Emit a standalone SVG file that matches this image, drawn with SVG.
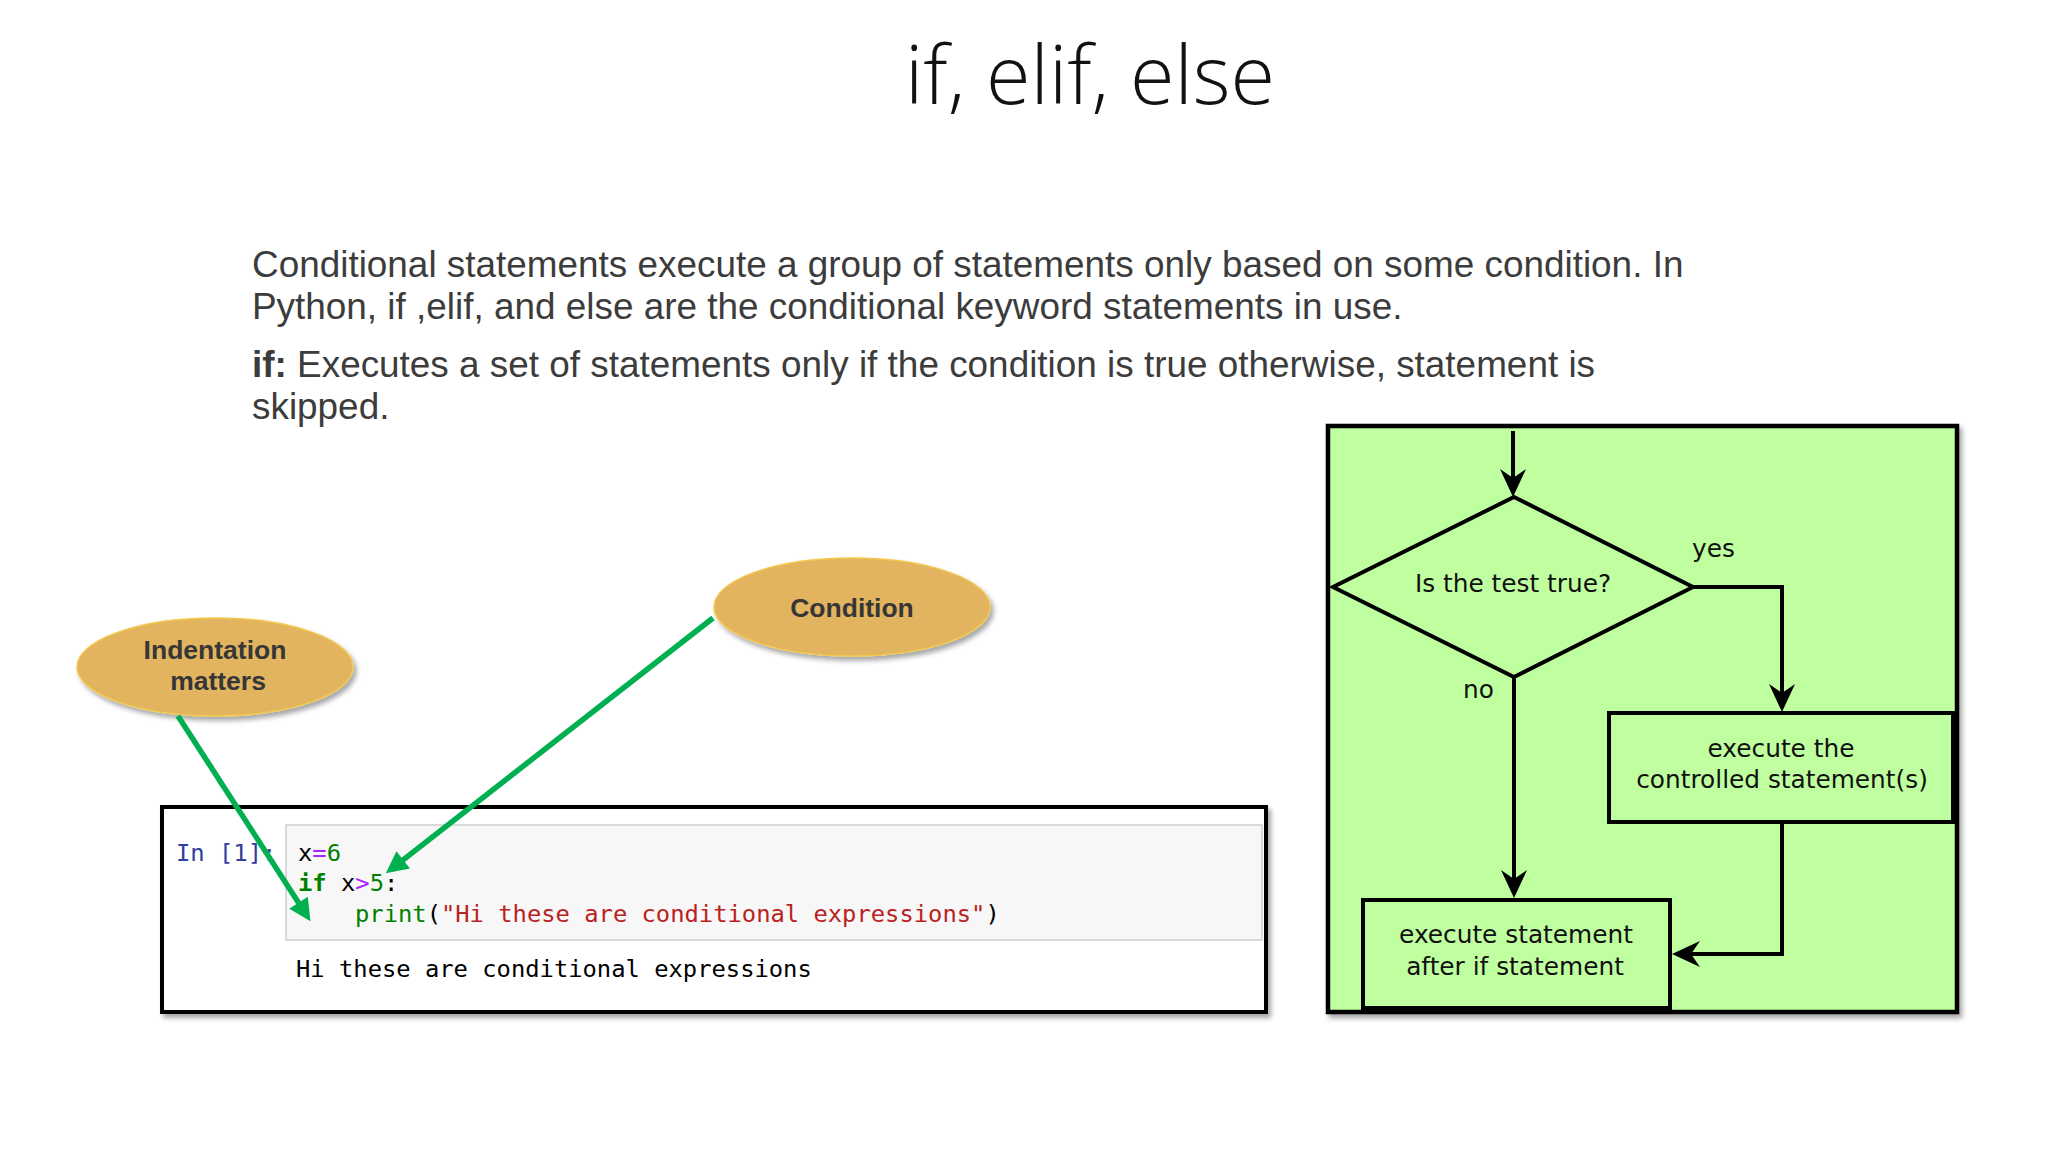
<svg xmlns="http://www.w3.org/2000/svg" width="2048" height="1152" viewBox="0 0 2048 1152">
<defs>
<style>
.title{font-family:"Open Sans","Noto Sans",sans-serif;font-weight:300;font-size:81px;fill:#111;}
.body{font-family:"Liberation Sans",Arial,sans-serif;font-size:36.9px;fill:#3c3c3c;}
.bubble{fill:#E3B45F;stroke:#F2C94C;stroke-width:1.5;}
.btxt{font-family:"Liberation Sans",Arial,sans-serif;font-weight:bold;font-size:26.5px;fill:#363636;text-anchor:middle;}
.code{font-family:"DejaVu Sans Mono","Liberation Mono",monospace;font-size:23.8px;fill:#000;}
.flow{font-family:"DejaVu Sans","Verdana",sans-serif;font-size:24.8px;fill:#111;}
.fbox{fill:#BFFF9F;stroke:#000;stroke-width:4;}
.fline{fill:none;stroke:#000;stroke-width:4;}
.ahead{fill:#000;}
.green{stroke:#00B050;stroke-width:5.5;fill:none;}
</style>
<filter id="shadow" x="-10%" y="-10%" width="130%" height="130%">
<feDropShadow dx="3" dy="4" stdDeviation="2.5" flood-color="#000" flood-opacity="0.35"/>
</filter>
<marker id="garrow" viewBox="0 0 10 10" refX="5" refY="5" markerWidth="24" markerHeight="22" markerUnits="userSpaceOnUse" orient="auto">
<path d="M0,0 L10,5 L0,10 z" fill="#00B050"/>
</marker>
</defs>
<rect width="2048" height="1152" fill="#fff"/>

<g id="title">
<text class="title" x="1090" y="104" text-anchor="middle">if, elif, else</text>
</g>

<g id="description">
<text class="body" x="252" y="277">Conditional statements execute a group of statements only based on some condition. In</text>
<text class="body" x="252" y="319">Python, if ,elif, and else are the conditional keyword statements in use.</text>
<text class="body" x="252" y="377"><tspan font-weight="bold">if:</tspan> Executes a set of statements only if the condition is true otherwise, statement is</text>
<text class="body" x="252" y="419">skipped.</text>
</g>

<g id="code-cell">
<rect x="162" y="807" width="1104" height="205" fill="#fff" stroke="#000" stroke-width="4" filter="url(#shadow)"/>
<rect x="286" y="825" width="976" height="115" fill="#f7f7f7" stroke="#cfcfcf" stroke-width="1.5"/>
<text class="code" x="176" y="861" style="fill:#303F9F">In [1]:</text>
<text class="code" x="298" y="861">x<tspan fill="#AA22FF">=</tspan><tspan fill="#008000">6</tspan></text>
<text class="code" x="298" y="891"><tspan fill="#008000" font-weight="bold">if</tspan> x<tspan fill="#AA22FF">&gt;</tspan><tspan fill="#008000">5</tspan>:</text>
<text class="code" x="355" y="922"><tspan fill="#008000">print</tspan>(<tspan fill="#BA2121">"Hi these are conditional expressions"</tspan>)</text>
<text class="code" x="296" y="977">Hi these are conditional expressions</text>
</g>

<g id="node-indentation">
<ellipse class="bubble" cx="215" cy="667" rx="138" ry="49" filter="url(#shadow)"/>
<text class="btxt" x="215" y="659">Indentation</text>
<text class="btxt" x="218" y="690">matters</text>
</g>

<g id="node-condition">
<ellipse class="bubble" cx="852" cy="607" rx="138" ry="49" filter="url(#shadow)"/>
<text class="btxt" x="852" y="617">Condition</text>
</g>

<g id="flowchart-frame">
<rect x="1328" y="426" width="629" height="586" fill="#BFFF9F" stroke="#000" stroke-width="4.5" filter="url(#shadow)"/>
</g>

<g id="node-decision">
<polygon class="fbox" points="1514,497 1693,587 1514,677 1333,587"/>
<text class="flow" x="1513" y="592" text-anchor="middle">Is the test true?</text>
</g>

<g id="node-controlled">
<rect class="fbox" x="1609" y="713" width="344" height="109"/>
<text class="flow" x="1781" y="757" text-anchor="middle">execute the</text>
<text class="flow" x="1782" y="788" text-anchor="middle">controlled statement(s)</text>
</g>

<g id="node-after">
<rect class="fbox" x="1363" y="900" width="307" height="108"/>
<text class="flow" x="1516" y="943" text-anchor="middle">execute statement</text>
<text class="flow" x="1515" y="975" text-anchor="middle">after if statement</text>
</g>

<g id="connectors">
<line class="green" x1="178" y1="716" x2="304.5" y2="911.9" marker-end="url(#garrow)"/>
<line class="green" x1="713" y1="618" x2="394.5" y2="866.6" marker-end="url(#garrow)"/>
<path class="fline" d="M1513,431 V480"/>
<path class="ahead" d="M1513,497 L1500,469 L1513,478 L1526,469 Z"/>
<path class="fline" d="M1693,587 H1782 V695"/>
<path class="ahead" d="M1782,712 L1769,684 L1782,693 L1795,684 Z"/>
<path class="fline" d="M1514,677 V881"/>
<path class="ahead" d="M1514,898 L1501,870 L1514,879 L1527,870 Z"/>
<path class="fline" d="M1782,822 V954 H1690"/>
<path class="ahead" d="M1672,954 L1700,941 L1691,954 L1700,967 Z"/>
<text class="flow" x="1692" y="557">yes</text>
<text class="flow" x="1463" y="698">no</text>
</g>
</svg>
